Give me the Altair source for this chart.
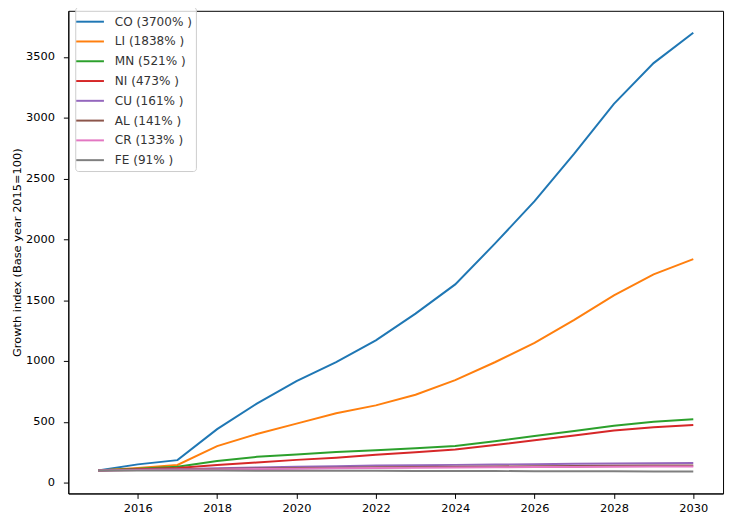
import altair as alt
import pandas as pd

years = list(range(2015, 2031))
names = ["CO", "LI", "MN", "NI", "CU", "AL", "CR", "FE"]
final_pct = [3700, 1838, 521, 473, 161, 141, 133, 91]
colors = ["#1f77b4", "#ff7f0e", "#2ca02c", "#d62728", "#9467bd", "#8c564b", "#e377c2", "#7f7f7f"]

CO = [100, 150, 185, 440, 650, 835, 990, 1170, 1390, 1630, 1965, 2315, 2705, 3115, 3450, 3700]
LI = [100, 120, 145, 300, 400, 485, 570, 635, 723, 843, 990, 1150, 1338, 1540, 1712, 1838]
MN = [100, 115, 130, 178, 212, 232, 252, 266, 283, 302, 340, 383, 425, 468, 500, 521]
NI = [100, 110, 120, 145, 165, 187, 205, 230, 250, 273, 310, 348, 388, 428, 455, 473]
CU = [100, 105, 110, 118, 125, 130, 135, 140, 143, 146, 149, 152, 155, 157, 159, 161]
AL = [100, 104, 108, 112, 116, 120, 123, 126, 129, 131, 133, 135, 137, 138, 140, 141]
CR = [100, 103, 106, 109, 112, 115, 118, 120, 122, 124, 126, 128, 129, 131, 132, 133]
FE = [100, 100, 99, 99, 98, 98, 97, 97, 96, 96, 95, 94, 93, 93, 92, 91]

series = [CO, LI, MN, NI, CU, AL, CR, FE]
labels = [f"{n} ({p}% )" for n, p in zip(names, final_pct)]

rows = []
for lab, vals in zip(labels, series):
    for yr, v in zip(years, vals):
        rows.append({"year": yr, "value": v, "series": lab})
df = pd.DataFrame(rows)

font = "DejaVu Sans"

chart = alt.Chart(df).mark_line(strokeWidth=2).encode(
    x=alt.X("year:Q",
            scale=alt.Scale(domain=[2014.25, 2030.75], nice=False, zero=False),
            axis=alt.Axis(values=list(range(2016, 2031, 2)), format="d", title=None,
                          grid=False, tickSize=5, tickColor="#000", domainColor="#000",
                          labelColor="#000", labelFont=font, labelFontSize=11.5,
                          labelPadding=4, labelFlush=False)),
    y=alt.Y("value:Q",
            scale=alt.Scale(domain=[-89, 3880], nice=False, zero=False),
            axis=alt.Axis(values=list(range(0, 3501, 500)), format="d",
                          title="Growth index (Base year 2015=100)",
                          grid=False, tickSize=5, tickColor="#000", domainColor="#000",
                          labelColor="#000", labelFont=font, labelFontSize=11.5,
                          labelPadding=9, titleFont=font, titleFontSize=11.5,
                          titleFontWeight="normal", titleColor="#000", titlePadding=3)),
    color=alt.Color("series:N",
                    scale=alt.Scale(domain=labels, range=colors),
                    sort=labels,
                    legend=alt.Legend(orient="none", legendX=7, legendY=-4, title=None,
                                      symbolType="M-1.4,0H1.4", symbolSize=400,
                                      symbolStrokeWidth=2, labelFont=font, labelFontSize=12.2,
                                      labelColor="#333", padding=4, rowPadding=2,
                                      strokeColor="#cccccc",
                                      fillColor="rgba(255,255,255,0.8)", cornerRadius=3,
                                      labelOffset=14)),
).properties(
    width=662, height=488,
    autosize=alt.AutoSizeParams(type="none"),
    padding={"left": 61, "top": 0, "right": 4, "bottom": 24},
).configure_view(stroke="#000", strokeWidth=1)

chart.save("out.html", embed_options={"renderer": "svg", "actions": False})
